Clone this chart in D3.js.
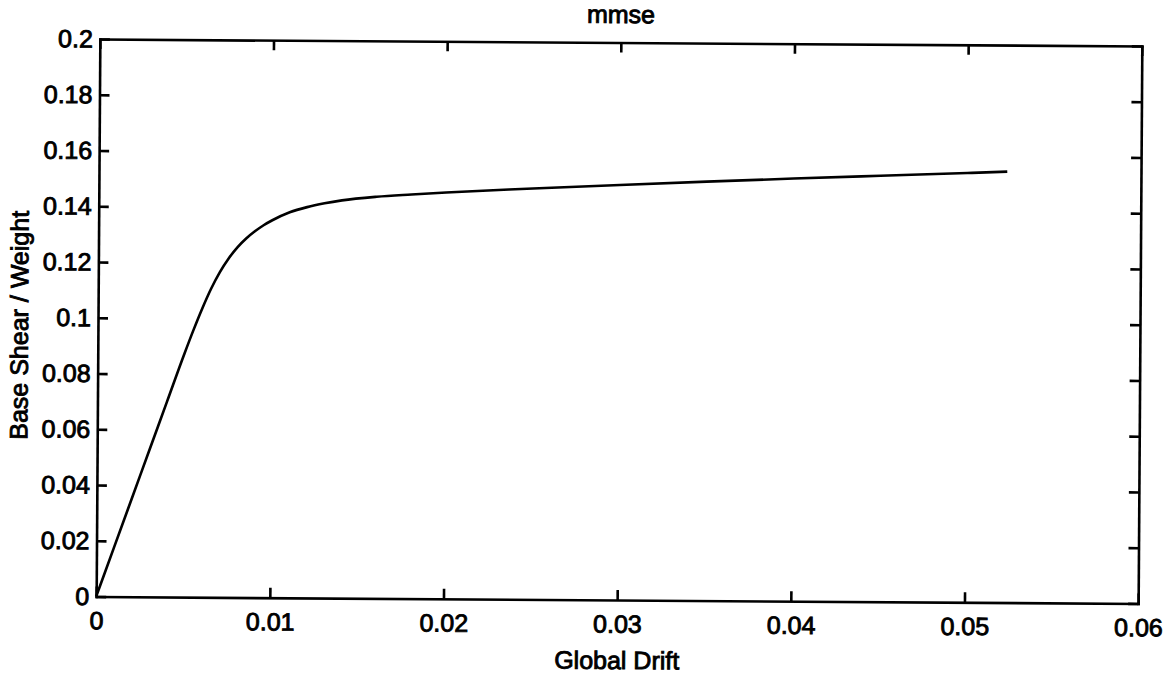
<!DOCTYPE html>
<html>
<head>
<meta charset="utf-8">
<script src="https://cdn.jsdelivr.net/npm/d3@7"></script>
<style>
  html, body { margin: 0; padding: 0; background: #fff; }
  svg text { font-family: "Liberation Sans", Arial, Helvetica, sans-serif; fill: #000; }
</style>
</head>
<body>
<svg id="chart" width="1164" height="676"></svg>
<script>
const drift = [0, 0.001, 0.002, 0.003, 0.004, 0.005, 0.0055, 0.006, 0.0065, 0.007, 0.0075, 0.008, 0.0085, 0.009, 0.0095, 0.01, 0.011, 0.012, 0.013, 0.014, 0.016, 0.018, 0.02, 0.025, 0.03, 0.035, 0.04, 0.045, 0.05, 0.0523];
const shear = [0, 0.0175, 0.0350, 0.0525, 0.0700, 0.0875, 0.0958, 0.1036, 0.1107, 0.1167, 0.1216, 0.1256, 0.1288, 0.1314, 0.1336, 0.1354, 0.1383, 0.1402, 0.1416, 0.1427, 0.1441, 0.1450, 0.1458, 0.1474, 0.1489, 0.1503, 0.1516, 0.1528, 0.1540, 0.1546];
const xTicks = [0, 0.01, 0.02, 0.03, 0.04, 0.05, 0.06];
const xTickLabels = ["0", "0.01", "0.02", "0.03", "0.04", "0.05", "0.06"];
const yTicks = [0, 0.02, 0.04, 0.06, 0.08, 0.1, 0.12, 0.14, 0.16, 0.18, 0.2];
const yTickLabels = ["0", "0.02", "0.04", "0.06", "0.08", "0.1", "0.12", "0.14", "0.16", "0.18", "0.2"];
const titleText = "mmse";
const xTitle = "Global Drift";
const yTitle = "Base Shear / Weight";

(function () {
const L = 98, R = 1140, T = 42.5, B = 600;
const svg = d3.select("#chart");
const g = svg.append("g").attr("transform", `rotate(0.38, ${(L + R) / 2}, ${(T + B) / 2})`);

const x = d3.scaleLinear().domain([0, 0.06]).range([L, R]);
const y = d3.scaleLinear().domain([0, 0.2]).range([B, T]);

const fs = 25;
const sw = 0.9;
const tickLen = 10;
const axStyle = s => s.attr("stroke", "#000").attr("stroke-width", 2.6);

const axBottom = g.append("g").attr("transform", `translate(0,${B})`)
  .call(d3.axisBottom(x).tickValues(xTicks).tickFormat((d, i) => xTickLabels[i]).tickSizeInner(-tickLen).tickSizeOuter(0).tickPadding(15));
const axLeft = g.append("g").attr("transform", `translate(${L},0)`)
  .call(d3.axisLeft(y).tickValues(yTicks).tickFormat((d, i) => yTickLabels[i]).tickSizeInner(-tickLen).tickSizeOuter(0).tickPadding(7));
const axTop = g.append("g").attr("transform", `translate(0,${T})`)
  .call(d3.axisTop(x).tickValues(xTicks).tickFormat("").tickSizeInner(-tickLen).tickSizeOuter(0));
const axRight = g.append("g").attr("transform", `translate(${R},0)`)
  .call(d3.axisRight(y).tickValues(yTicks).tickFormat("").tickSizeInner(-tickLen).tickSizeOuter(0));

[axBottom, axLeft, axTop, axRight].forEach(a => {
  a.select(".domain").call(axStyle).attr("stroke-linecap", "square");
  a.selectAll(".tick line").call(axStyle);
  a.selectAll(".tick text").attr("font-size", fs).attr("font-family", "Liberation Sans, Arial, sans-serif")
    .attr("fill", "#000").attr("stroke", "#000").attr("stroke-width", sw);
});
axBottom.selectAll(".tick text").attr("dy", "0.71em");

const line = d3.line().x((d, i) => x(drift[i])).y((d, i) => y(shear[i])).curve(d3.curveMonotoneX);
g.append("path").datum(shear).attr("d", line)
  .attr("fill", "none").attr("stroke", "#000").attr("stroke-width", 2.6).attr("stroke-linejoin", "round");

g.append("text").attr("x", (L + R) / 2).attr("y", 23).attr("text-anchor", "middle")
  .attr("font-size", fs).attr("stroke", "#000").attr("stroke-width", sw).text(titleText);
g.append("text").attr("x", (L + R) / 2).attr("y", 669).attr("text-anchor", "middle")
  .attr("font-size", fs).attr("stroke", "#000").attr("stroke-width", sw).text(xTitle);
g.append("text").attr("transform", `translate(28,${(T + B) / 2 + 8}) rotate(-90)`).attr("text-anchor", "middle")
  .attr("font-size", fs).attr("stroke", "#000").attr("stroke-width", sw).text(yTitle);
})();
</script>
</body>
</html>
